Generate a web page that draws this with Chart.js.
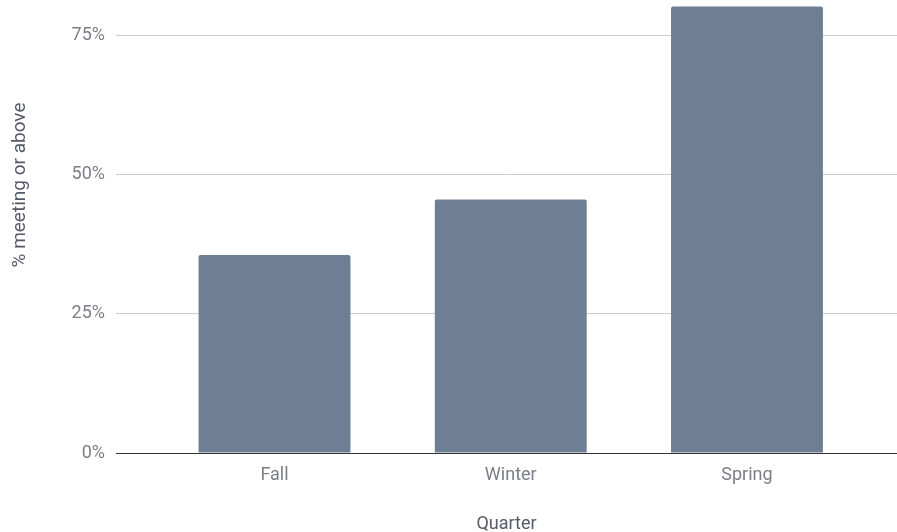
<!DOCTYPE html>
<html>
<head>
<meta charset="utf-8">
<script src="https://cdn.jsdelivr.net/npm/chart.js@4"></script>
<style>
  html, body { margin: 0; padding: 0; background: #fff; }
  #wrap { width: 897px; height: 532px; }
</style>
</head>
<body>
<div id="wrap"><canvas id="chart"></canvas></div>
<script>
const quarters = ['Fall', 'Winter', 'Spring']
const meetingOrAbove = [35.6, 45.6, 80.3]
const yTicks = [0, 25, 50, 75]

// y title sits above centre in the reference, so draw it by hand
const yTitle = {
    id: 'yTitle',
    afterDraw(chart) {
        const ctx = chart.ctx
        ctx.save()
        ctx.translate(20, 185)
        ctx.rotate(-Math.PI / 2)
        ctx.font = '19px Roboto'
        ctx.fillStyle = '#555b66'
        ctx.textAlign = 'center'
        ctx.textBaseline = 'middle'
        ctx.fillText('% meeting or above', 0, 0)
        ctx.restore()
    }
}

let ctx = document.getElementById('chart').getContext('2d')
let chart = new Chart(ctx, {
    type: 'bar',
    data: {
        datasets: [{
            label: '% meeting or above',
            data: quarters.map((q, i) => ({ x: i, y: meetingOrAbove[i] })),
            backgroundColor: '#6e7e94',
            borderRadius: 2,
            borderSkipped: 'bottom',
            barPercentage: 0.643,
            categoryPercentage: 1
        }]
    },
    options: {
        responsive: true,
        maintainAspectRatio: false,
        animation: false,
        layout: { padding: 0 },
        plugins: {
            legend: { display: false },
            tooltip: { enabled: false }
        },
        scales: {
            x: {
                type: 'linear',
                offset: false,
                min: -0.671,
                max: 2.635,
                afterBuildTicks: (scale) => { scale.ticks = quarters.map((q, i) => ({ value: i })) },
                afterFit: (scale) => {
                    scale.height = 79
                    scale.paddingLeft = 0
                    scale.paddingRight = 0
                },
                grid: { color: 'transparent', drawTicks: false },
                border: { display: true, color: '#333333', width: 1 },
                ticks: {
                    padding: 12,
                    color: '#7a7f87',
                    font: { family: 'Roboto', size: 18 },
                    callback: (v) => quarters[v]
                },
                title: {
                    display: true,
                    text: 'Quarter',
                    color: '#555b66',
                    font: { family: 'Roboto', size: 18 },
                    padding: { top: 0, bottom: -3 }
                }
            },
            y: {
                min: 0,
                max: 81.47,
                afterBuildTicks: (scale) => { scale.ticks = yTicks.map(v => ({ value: v })) },
                afterFit: (scale) => {
                    scale.width = 116
                    scale.paddingTop = 0
                    scale.paddingBottom = 0
                },
                grid: {
                    color: (c) => c.tick && c.tick.value === 0 ? 'transparent' : '#cccccc',
                    drawTicks: false
                },
                border: { display: false },
                ticks: {
                    padding: 11,
                    color: '#7a7f87',
                    font: { family: 'Roboto', size: 18 },
                    callback: (v) => v + '%'
                }
            }
        }
    },
    plugins: [yTitle]
})
</script>
</body>
</html>
